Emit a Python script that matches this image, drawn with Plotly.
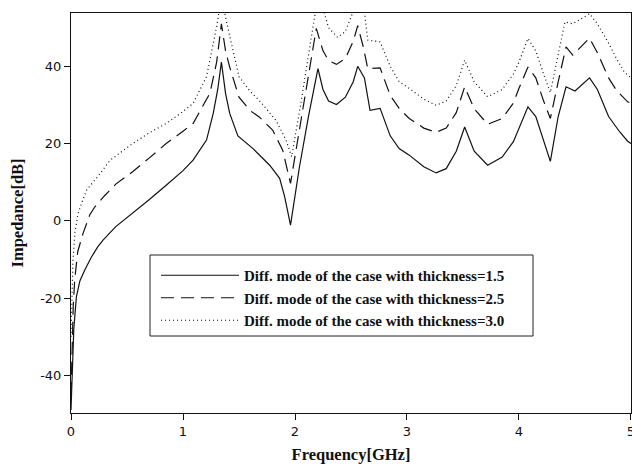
import plotly.graph_objects as go

# ---- data ----
f_15 = [0.0, 0.01, 0.025, 0.048, 0.08, 0.122, 0.18, 0.24, 0.286, 0.4, 0.55, 0.7, 0.85, 1.0, 1.09,
        1.21, 1.27, 1.31, 1.343, 1.38, 1.417, 1.49, 1.625, 1.774, 1.863, 1.908, 1.96, 2.04, 2.12,
        2.205, 2.25, 2.3, 2.37, 2.45, 2.52, 2.56, 2.62, 2.67, 2.76, 2.85, 2.93, 3.02, 3.15, 3.26,
        3.35, 3.44, 3.515, 3.6, 3.72, 3.85, 3.95, 4.006, 4.08, 4.15, 4.22, 4.28, 4.35, 4.42, 4.5,
        4.63, 4.7, 4.8, 4.9, 4.97, 5.0]
z_15 = [-49, -40, -28, -19.7, -15.5, -12.8, -9.5, -6.7, -5, -1.5, 1.9, 5.5, 9.2, 13, 15.7,
        20.9, 27.8, 34, 41.1, 33, 27.8, 22, 18.7, 14.4, 11, 6.2, -1.1, 14, 27,
        39.4, 34, 31, 30.1, 32, 36, 40, 37, 28.6, 29.1, 22, 18.7, 17, 14, 12.4,
        13.5, 18, 24.3, 18, 14.4, 16.5, 20.5, 24.3, 29.5, 27, 21, 15.4, 27, 34.7, 33.6,
        37, 34, 27, 23, 20.6, 20]

f_25 = [0.0, 0.01, 0.02, 0.033, 0.06, 0.107, 0.167, 0.21, 0.3, 0.4, 0.55, 0.7, 0.85, 1.0, 1.09,
        1.24, 1.3, 1.343, 1.38, 1.417, 1.5, 1.6, 1.68, 1.8, 1.89, 1.96, 2.05, 2.19, 2.25, 2.3,
        2.37, 2.45, 2.52, 2.56, 2.61, 2.65, 2.76, 2.85, 2.93, 3.02, 3.15, 3.26, 3.35, 3.44, 3.515,
        3.6, 3.72, 3.85, 3.95, 4.0, 4.08, 4.15, 4.22, 4.28, 4.35, 4.42, 4.48, 4.63, 4.7, 4.8,
        4.87, 4.97, 5.0]
z_25 = [-45, -32, -22, -15.3, -8, -3.3, 1.5, 3.5, 6.5, 9.5, 12.7, 16.3, 20, 23.2, 25.2,
        33, 41, 51, 44, 39.8, 32, 28.5, 26.9, 23.5, 18.3, 9.7, 25, 49.8, 44, 41.5,
        40.5, 42, 46.5, 50.5, 45, 39.4, 39.6, 32.5, 29.1, 26.5, 24, 22.9, 24, 28, 34.7,
        29, 25, 26.5, 30.5, 34.3, 39.8, 37, 31, 26.5, 36, 45, 42.9, 47.3, 43.5, 37,
        33.8, 30.8, 30.5]

f_30 = [0.0, 0.01, 0.018, 0.035, 0.063, 0.1, 0.14, 0.24, 0.35, 0.55, 0.7, 0.85, 1.0, 1.09, 1.21,
        1.3, 1.343, 1.40, 1.5, 1.6, 1.68, 1.83, 1.92, 1.97, 2.05, 2.18, 2.22, 2.3, 2.38, 2.45,
        2.52, 2.57, 2.62, 2.65, 2.76, 2.85, 2.93, 3.02, 3.15, 3.26, 3.35, 3.44, 3.515, 3.6, 3.72,
        3.85, 3.95, 4.0, 4.08, 4.15, 4.22, 4.28, 4.35, 4.41, 4.48, 4.63, 4.7, 4.8, 4.87, 4.94, 5.0]
z_30 = [-30, -18, -10, -3, 1.9, 5, 8, 11.5, 15.7, 20, 22.8, 25.2, 28.3, 30.4, 37.3,
        50.2, 58, 50, 37.3, 33.5, 31.2, 26, 20.9, 16.6, 30, 53.7, 58, 50, 47.5, 49,
        54, 58, 54, 46.8, 46.3, 40, 36, 34.3, 31.5, 29.9, 31, 35, 41.6, 36, 32.1,
        34, 38, 41.1, 47.2, 44, 38, 33.2, 43, 51.5, 51, 53.6, 51, 46, 42, 38.5, 37]

names = ["Diff. mode of the case with thickness=1.5",
         "Diff. mode of the case with thickness=2.5",
         "Diff. mode of the case with thickness=3.0"]
x_ticks = [0, 1, 2, 3, 4, 5]
y_ticks = [-40, -20, 0, 20, 40]
y_tick_labels = ["-40", "-20", "0", "20", "40"]

fig = go.Figure()
styles = [dict(color="#111", width=1.2, dash="solid"),
          dict(color="#111", width=1.2, dash="13px,7px"),
          dict(color="#111", width=1.2, dash="1px,3px")]
for fx, zy, nm, st in zip([f_15, f_25, f_30], [z_15, z_25, z_30], names, styles):
    fig.add_trace(go.Scatter(x=fx, y=zy, mode="lines", name=nm, line=st))

W, H = 632, 468
L, R, T, B = 71, 1, 13, 55
pw, ph = W - L - R, H - T - B

def px_x(p):
    return (p - L) / pw

def px_y(p):
    return (H - B - p) / ph

fig.add_shape(type="rect", xref="paper", yref="paper",
              x0=px_x(150), x1=px_x(533), y0=px_y(336), y1=px_y(255),
              line=dict(color="#222", width=1), fillcolor="white", layer="above")

serif = "Liberation Serif"
sans = "DejaVu Sans"
fig.update_layout(
    width=W, height=H, template="none",
    margin=dict(l=L, r=R, t=T, b=B, pad=0),
    paper_bgcolor="white", plot_bgcolor="white",
    showlegend=True,
    legend=dict(x=px_x(156), y=px_y(259), xanchor="left", yanchor="top",
                bgcolor="rgba(0,0,0,0)", borderwidth=0, itemwidth=78,
                font=dict(family=serif, size=15, color="#111", weight="bold"),
                tracegroupgap=0),
    xaxis=dict(range=[0, 5.0001], tickvals=x_ticks, ticks="outside", ticklen=6,
               tickcolor="#111", showline=True, linecolor="#111", linewidth=1,
               mirror=True, showgrid=False, zeroline=False, automargin=False,
               ticklabeloverflow="allow",
               tickfont=dict(family=sans, size=13, color="#111"),
               title=dict(text="<b>Frequency[GHz]</b>", standoff=10,
                          font=dict(family=serif, size=16.5, color="#111"))),
    yaxis=dict(range=[-49.75, 53.8], tickvals=y_ticks, ticktext=y_tick_labels,
               ticks="outside", ticklen=6,
               tickcolor="#111", showline=True, linecolor="#111", linewidth=1,
               mirror=True, showgrid=False, zeroline=False, automargin=False,
               tickfont=dict(family=sans, size=13, color="#111"),
               title=dict(text="<b>Impedance[dB]</b>", standoff=12,
                          font=dict(family=serif, size=16.5, color="#111"))),
)

fig.write_html("out.html", config={"displayModeBar": False},
               post_script="document.body.style.margin='0';")
